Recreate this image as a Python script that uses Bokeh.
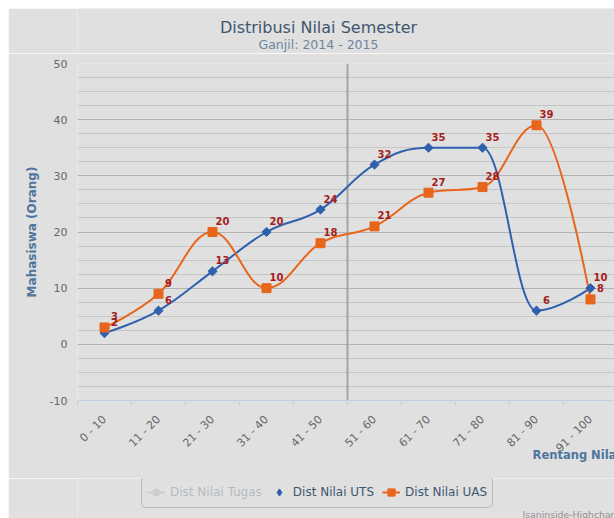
import math
from bokeh.plotting import figure
from bokeh.layouts import column
from bokeh.models import (Range1d, FixedTicker, SingleIntervalTicker, Span, Title, Label,
                          Legend, LegendItem, ColumnDataSource)
from bokeh.core.properties import value
from bokeh.embed import file_html
from bokeh.resources import INLINE

# ---------------- data ----------------
categories = ["0 - 10", "11 - 20", "21 - 30", "31 - 40", "41 - 50",
              "51 - 60", "61 - 70", "71 - 80", "81 - 90", "91 - 100"]
uts = [2, 6, 13, 20, 24, 32, 35, 35, 6, 10]
uas = [3, 9, 20, 10, 18, 21, 27, 28, 39, 8]
y_ticks = [-10, 0, 10, 20, 30, 40, 50]
plot_line_at = 4.5

title_text = "Distribusi Nilai Semester"
subtitle_text = "Ganjil: 2014 - 2015"
y_title = "Mahasiswa (Orang)"
x_title = "Rentang Nilai"
series_names = ["Dist Nilai Tugas", "Dist Nilai UTS", "Dist Nilai UAS"]
credit_text = "Isaninside-Highcharts"

# ---------------- style ----------------
W = 606
H_HEAD, H_MAIN, H_FOOT = 45, 425, 40
BG = "#e0e0e0"
BLUE = "#2f60ad"
ORANGE = "#e8651c"
LBL = "#a31d1d"
FONT = "DejaVu Sans"
FL, FT = 69, 10
FRAME_H = 337
CAT_W = 54.0
FW = W - FL


def spline(xs, ys):
    sm, den = 1.5, 2.5
    n = len(xs)
    rc = [None] * n
    out = {k: [] for k in ("x0", "y0", "x1", "y1", "cx0", "cy0", "cx1", "cy1")}
    for i in range(1, n):
        x, y = xs[i], ys[i]
        lcx, lcy = x, y
        if i < n - 1:
            lx, ly = xs[i - 1], ys[i - 1]
            nx, ny = xs[i + 1], ys[i + 1]
            lcx = (sm * x + lx) / den
            lcy = (sm * y + ly) / den
            rcx = (sm * x + nx) / den
            rcy = (sm * y + ny) / den
            corr = 0.0
            if rcx != lcx:
                corr = ((rcy - lcy) * (rcx - x)) / (rcx - lcx) + y - rcy
            lcy += corr
            rcy += corr
            if lcy > ly and lcy > y:
                lcy = max(ly, y); rcy = 2 * y - lcy
            elif lcy < ly and lcy < y:
                lcy = min(ly, y); rcy = 2 * y - lcy
            if rcy > ny and rcy > y:
                rcy = max(ny, y); lcy = 2 * y - rcy
            elif rcy < ny and rcy < y:
                rcy = min(ny, y); lcy = 2 * y - rcy
            rc[i] = (rcx, rcy)
        px, py = xs[i - 1], ys[i - 1]
        c0 = rc[i - 1] if rc[i - 1] is not None else (px, py)
        out["x0"].append(px); out["y0"].append(py)
        out["cx0"].append(c0[0]); out["cy0"].append(c0[1])
        out["cx1"].append(lcx); out["cy1"].append(lcy)
        out["x1"].append(x); out["y1"].append(y)
    return out


def blank(height):
    fig = figure(width=W, height=height, output_backend="svg", toolbar_location=None,
                 x_range=Range1d(0, FW), y_range=Range1d(0, height),
                 x_axis_location=None, y_axis_location=None,
                 min_border_left=FL, min_border_right=0, min_border_top=0,
                 min_border_bottom=0)
    fig.margin = (0, 0, 0, 8)
    fig.background_fill_color = BG
    fig.border_fill_color = BG
    fig.outline_line_color = None
    fig.xgrid.grid_line_color = None
    fig.ygrid.grid_line_color = None
    return fig


# ---------------- header: title + subtitle ----------------
hd = blank(H_HEAD)
hd.margin = (8, 0, 0, 8)
hd.add_layout(Label(x=310 - FL, y=26, text=title_text, text_font=FONT,
                    text_font_size="16px", text_color="#3e576f",
                    text_align="center", text_baseline="middle"))
hd.add_layout(Label(x=310 - FL, y=9, text=subtitle_text, text_font=FONT,
                    text_font_size="12.5px", text_color="#6d869f",
                    text_align="center", text_baseline="middle"))

# ---------------- main plot ----------------
xs = list(range(len(categories)))
p = figure(width=W, height=H_MAIN, output_backend="svg", toolbar_location=None,
           x_range=Range1d(-0.5, -0.5 + FW / CAT_W),
           y_range=Range1d(min(y_ticks), max(y_ticks)),
           min_border_left=FL, min_border_right=0, min_border_top=FT,
           min_border_bottom=H_MAIN - FT - FRAME_H)
p.margin = (0, 0, 0, 8)
p.background_fill_color = BG
p.border_fill_color = BG
p.outline_line_color = None

# y axis & grid
p.yaxis.ticker = SingleIntervalTicker(interval=10, num_minor_ticks=4)
p.yaxis.major_label_overrides = {v: str(v) for v in y_ticks}
p.yaxis.axis_line_color = None
p.yaxis.major_tick_line_color = None
p.yaxis.minor_tick_line_color = None
p.yaxis.major_label_standoff = 4
p.yaxis.major_label_text_font = FONT
p.yaxis.major_label_text_font_size = "11px"
p.yaxis.major_label_text_color = "#666666"
p.yaxis.axis_label = y_title
p.yaxis.axis_label_text_font = FONT
p.yaxis.axis_label_text_font_size = "12px"
p.yaxis.axis_label_text_font_style = "bold"
p.yaxis.axis_label_text_color = "#4d759e"
p.yaxis.axis_label_standoff = 8
p.ygrid.grid_line_color = "#b2b2b2"
p.ygrid.minor_grid_line_color = "#c6c6c6"
p.xgrid.grid_line_color = None

# x axis
p.xaxis.ticker = FixedTicker(ticks=xs, minor_ticks=[i - 0.5 for i in range(len(categories) + 1)])
p.xaxis.major_label_overrides = {i: c for i, c in enumerate(categories)}
p.xaxis.major_label_orientation = math.pi / 4
p.xaxis.major_label_text_font = FONT
p.xaxis.major_label_text_font_size = "11px"
p.xaxis.major_label_text_color = "#666666"
p.xaxis.major_label_standoff = 12
p.xaxis.axis_line_color = "#c0d0e0"
p.xaxis.major_tick_line_color = None
p.xaxis.major_tick_out = 0
p.xaxis.minor_tick_line_color = "#c0d0e0"
p.xaxis.minor_tick_in = 0
p.xaxis.minor_tick_out = 5

# x-axis title: anchored at the axis end, tucked under the rotated labels.
# The label is centred on the anchor, so trailing no-break spaces shift the
# visible words to the left, as in the reference.
try:
    p.xaxis.axis_label_align = "end"
    p.xaxis.axis_label = x_title + "\u00a0" * 19
    p.xaxis.axis_label_standoff = -14
    p.xaxis.axis_label_text_font = FONT
    p.xaxis.axis_label_text_font_size = "11.5px"
    p.xaxis.axis_label_text_font_style = "bold"
    p.xaxis.axis_label_text_color = "#4d759e"
except AttributeError:
    p.add_layout(Title(text=x_title, align="right", offset=-5, text_font=FONT,
                       text_font_size="11.5px", text_font_style="bold",
                       text_color="#4d759e", standoff=0), "below")

p.add_layout(Span(location=plot_line_at, dimension="height", line_color="#a4a4a4",
                  line_width=2, level="underlay"))

# series
for vals, color in ((uts, BLUE), (uas, ORANGE)):
    seg = ColumnDataSource(spline(xs, vals))
    p.bezier(x0="x0", y0="y0", x1="x1", y1="y1", cx0="cx0", cy0="cy0",
             cx1="cx1", cy1="cy1", source=seg, line_color=color, line_width=2)
for vals, color, msize, ang in ((uts, BLUE, 6.5, math.pi / 4), (uas, ORANGE, 9, 0)):
    src = ColumnDataSource(dict(x=xs, y=vals))
    p.scatter("x", "y", source=src, marker="square", size=msize, angle=ang,
              fill_color=color, line_color=color)
for vals in (uts, uas):
    src = ColumnDataSource(dict(x=xs, y=vals, t=[str(v) for v in vals]))
    p.text("x", "y", text="t", source=src, x_offset=10, y_offset=-11,
           text_align="center", text_baseline="middle", text_color=LBL,
           text_font=value(FONT), text_font_size="10px", text_font_style="bold")

# ---------------- footer: legend + credits ----------------
ft = blank(H_FOOT)
nan = float("nan")
proxy = lambda: ColumnDataSource(dict(x=[nan], y=[nan]))
tug_line = ft.line(x="x", y="y", source=proxy(), line_color="#9a9a9a", line_width=2,
                   visible=False)
tug_pt = ft.scatter(x="x", y="y", source=proxy(), marker="circle", size=8,
                    fill_color="#9a9a9a", line_color="#9a9a9a", visible=False)
uts_pt = ft.scatter(x="x", y="y", source=proxy(), marker="diamond",
                    size=9, fill_color=BLUE, line_color=BLUE)
uas_line = ft.line(x="x", y="y", source=proxy(), line_color=ORANGE, line_width=2)
uas_pt = ft.scatter(x="x", y="y", source=proxy(), marker="square", size=9,
                    fill_color=ORANGE, line_color=ORANGE)

legend = Legend(items=[
    LegendItem(label=series_names[0], renderers=[tug_line, tug_pt]),
    LegendItem(label=series_names[1], renderers=[uts_pt]),
    LegendItem(label=series_names[2], renderers=[uas_line, uas_pt]),
], orientation="horizontal", location=(133 - FL, 10), click_policy="hide",
    label_text_font=FONT, label_text_font_size="12px", label_text_color="#3e576f",
    background_fill_color=BG, background_fill_alpha=1,
    border_line_color="#909090", border_line_width=1,
    inactive_fill_color=BG, inactive_fill_alpha=0.72,
    glyph_width=18, glyph_height=20, label_standoff=5, spacing=8,
    padding=5, margin=0, label_height=20)
try:
    legend.border_radius = 5
except AttributeError:
    pass
ft.add_layout(legend)

ft.add_layout(Label(x=514 - FL, y=4, text=credit_text, text_font=FONT,
                    text_font_size="9.3px", text_color="#909090",
                    text_align="left", text_baseline="alphabetic"))

open("out.html", "w").write(file_html(column(hd, p, ft, spacing=0), INLINE))
